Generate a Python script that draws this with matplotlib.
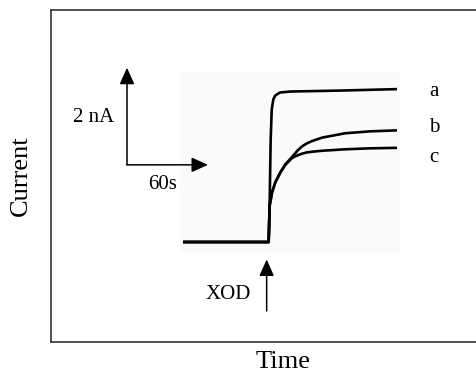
import matplotlib.pyplot as plt
from matplotlib.patches import Rectangle

plt.rcParams['font.family'] = ['Liberation Serif', 'DejaVu Serif']

# amperometric traces, t in s (XOD added at t=0), current in nA above baseline
t_a = [-63.75, 0.5, 1.3, 2.0, 2.8, 4, 5.5, 9, 16.5, 54, 96.75]
i_a = [0, 0, 0.88, 2.11, 2.73, 2.94, 3.02, 3.08, 3.10, 3.12, 3.15]

t_b = [-63.75, 0.5, 0.8, 1.2, 3, 5.5, 9.2, 13, 18, 22, 25.5, 29, 33, 40.5, 50, 57.75, 76.5, 96.75]
i_b = [0, 0, 0.3, 0.74, 1.02, 1.23, 1.43, 1.60, 1.75, 1.88, 1.97, 2.03, 2.08, 2.15, 2.20, 2.24, 2.28, 2.30]

t_c = [-63.75, 0.5, 0.8, 1.2, 3, 5.5, 9.2, 13, 18, 22, 25.5, 29, 33, 40.5, 57.75, 76.5, 96.75]
i_c = [0, 0, 0.3, 0.74, 1.02, 1.23, 1.43, 1.59, 1.73, 1.785, 1.82, 1.845, 1.86, 1.88, 1.91, 1.93, 1.94]

trace_names = ['a', 'b', 'c']
name_y = [3.11, 2.35, 1.75]

# scale bars
bar_t0, bar_i0 = -105.75, 1.59
bar_dt, bar_di = 60.75, 2.0

fig = plt.figure(figsize=(4.77, 3.82), dpi=100)
ax = fig.add_axes([51 / 477, 40 / 382, 439 / 477, 332 / 382])
ax.set_xlim(-162.75, 166.5)
ax.set_ylim(-2.06, 4.78)
ax.set_xticks([])
ax.set_yticks([])
for s in ax.spines.values():
    s.set_color('#333333')
    s.set_linewidth(1.2)
ax.spines['right'].set_visible(False)

# faint backing behind the recording
ax.add_patch(Rectangle((-66, -0.2), 165, 3.7, color='#fafafa', lw=0, zorder=0))

for t, i in [(t_a, i_a), (t_b, i_b), (t_c, i_c)]:
    ax.plot(t, i, color='black', lw=1.9, solid_capstyle='butt', solid_joinstyle='round', zorder=2)

for name, y in zip(trace_names, name_y):
    ax.text(124.5, y, name, fontsize=15, ha='center', va='center')

arrow = dict(arrowstyle='-|>,head_length=1.0,head_width=0.45', color='black', lw=1.1,
             shrinkA=0, shrinkB=0)
ax.annotate('', xy=(bar_t0, bar_i0 + bar_di), xytext=(bar_t0, bar_i0), arrowprops=arrow)
ax.annotate('', xy=(bar_t0 + bar_dt, bar_i0), xytext=(bar_t0, bar_i0), arrowprops=arrow)
ax.text(-130.5, 2.56, '2 nA', fontsize=15, ha='center', va='center')
ax.text(-78.75, 1.18, '60s', fontsize=15, ha='center', va='center')

ax.annotate('', xy=(-1, -0.36), xytext=(-1, -1.42), arrowprops=arrow)
ax.text(-30, -1.09, 'XOD', fontsize=15, ha='center', va='center')

ax.set_ylabel('Current', fontsize=19, labelpad=14)
fig.text(283 / 477, 1 - 362 / 382, 'Time', fontsize=19, ha='center', va='center')

fig.savefig('out.png', dpi=100)
